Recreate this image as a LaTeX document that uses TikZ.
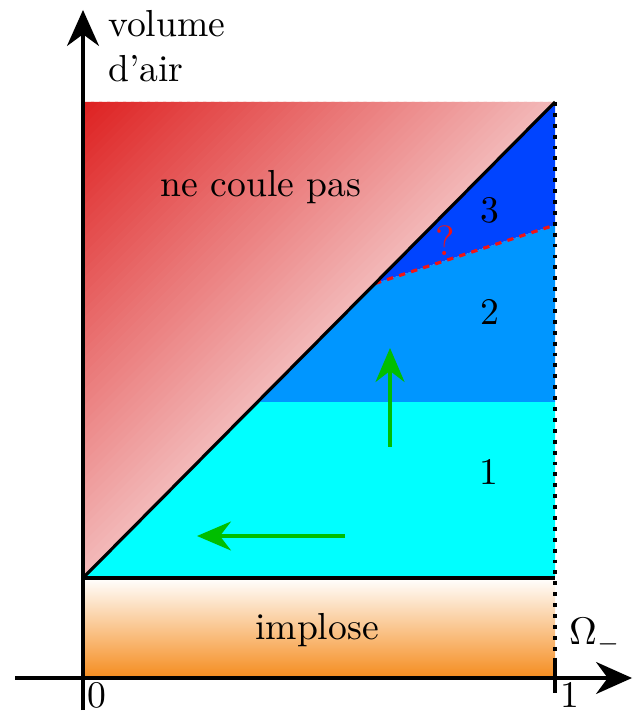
\documentclass[tikz,border=0pt]{standalone}
\usepackage{amsmath,amssymb}
\usepackage{xcolor}
\usepackage{tikz}
\usetikzlibrary{positioning,arrows.meta,calc}
\definecolor{ink}{RGB}{0,0,0}
\definecolor{redtop}{RGB}{222,34,34}
\definecolor{redlow}{RGB}{243,186,186}
\definecolor{zonecyan}{RGB}{0,255,255}
\definecolor{zonesky}{RGB}{0,150,255}
\definecolor{zoneblue}{RGB}{0,68,255}
\definecolor{implorange}{RGB}{245,140,30}
\definecolor{flowgreen}{RGB}{0,190,0}
\definecolor{qred}{RGB}{240,20,20}
\tikzset{
  axis/.style={-{Stealth[length=3.6mm,width=3.2mm]}, line width=0.9pt, draw=ink},
  border/.style={line width=0.9pt, draw=ink},
  limit/.style={line width=1.1pt, draw=ink, dotted},
  front/.style={line width=0.9pt, draw=qred, dash pattern=on 1.8pt off 1.8pt},
  move/.style={-{Stealth[length=3.4mm,width=2.9mm]}, line width=0.9pt, draw=flowgreen},
  lbl/.style={font=\fontsize{10.7}{12.8}\selectfont, text=ink, inner sep=1pt},
}

\begin{document}
\begin{tikzpicture}
  \useasboundingbox (-0.83,-0.33) rectangle (5.52,6.78);
  % key points of the domain
  \coordinate (O)  at (0,0);
  \coordinate (B)  at (4.72,0);
  \coordinate (A0) at (0,1);
  \coordinate (A1) at (4.72,1);
  \coordinate (T0) at (0,5.76);
  \coordinate (T1) at (4.72,5.76);
  \coordinate (D0) at (2.92,3.945);
  \coordinate (D1) at (4.72,4.53);
  % zones
  \shade[top color=white, bottom color=implorange] (O) rectangle (A1);
  \fill[zonecyan] (A0) -- (A1) -- (4.72,2.76) -- (1.745,2.76) -- cycle;
  \fill[zonesky] (1.745,2.76) -- (4.72,2.76) -- (D1) -- (D0) -- cycle;
  \fill[zoneblue] (D0) -- (D1) -- (T1) -- cycle;
  % red zone, graded from the corner down to the diagonal
  \begin{scope}
    \clip (A0) -- (T0) -- (T1) -- cycle;
    \begin{scope}[shift={(T0)}, rotate=-45]
      \foreach \i in {0,...,59} {
        \pgfmathsetmacro\p{100-100*\i/59}
        \fill[redtop!\p!redlow] ({3.4*\i/60},-3.6) rectangle ({3.4*(\i+1)/60+0.02},3.6);
      }
    \end{scope}
  \end{scope}
  % frontiers
  \draw[front] (D0) -- (D1);
  \draw[border] (A0) -- (A1);
  \draw[border] (A0) -- (T1);
  \draw[limit] (T1) -- (4.72,0.2);
  \draw[border] (4.72,0.2) -- (4.72,-0.15);
  % axes
  \draw[axis] (-0.68,0) -- (5.49,0);
  \draw[axis] (0,-0.32) -- (0,6.68);
  % directions
  \draw[move] (3.07,2.31) -- (3.07,3.30);
  \draw[move] (2.62,1.42) -- (1.14,1.42);
  % labels
  \node[lbl, anchor=north west, align=left] (yl) at (0.21,6.72) {volume\\d'air};
  \node[lbl] (ncp) at (1.78,4.91) {ne coule pas};
  \node[lbl] (z3) at (4.07,4.68) {3};
  \node[lbl, text=qred, font=\large] (zq) at (3.62,4.37) {?};
  \node[lbl] (z2) at (4.07,3.66) {2};
  \node[lbl] (z1) at (4.06,2.06) {1};
  \node[lbl] (imp) at (2.34,0.48) {implose};
  \node[lbl, anchor=west] (om) at (4.82,0.42) {$\Omega_-$};
  \node[lbl] (x0) at (0.14,-0.17) {0};
  \node[lbl] (x1) at (4.87,-0.17) {1};
\end{tikzpicture}
\end{document}
